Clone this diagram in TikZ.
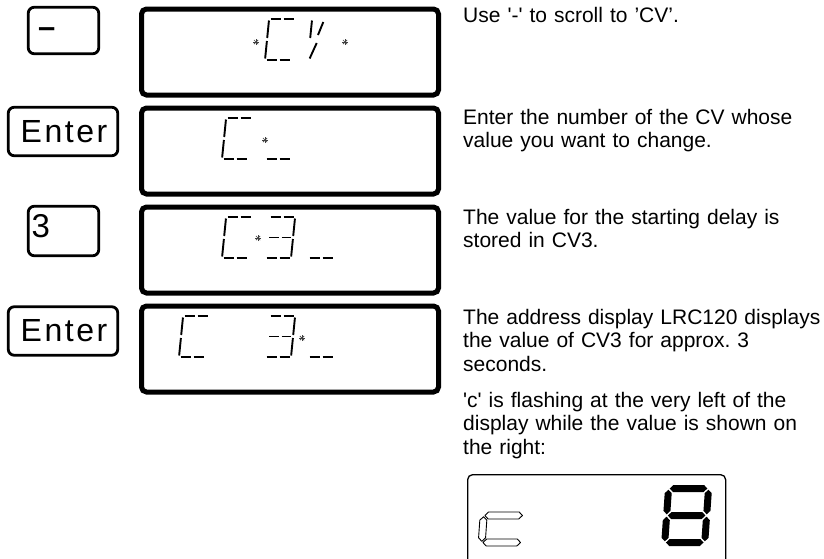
\documentclass[tikz,border=0pt]{standalone}
\usepackage{fontspec}
\setmainfont{Liberation Sans}
\newfontfamily\notefont{Liberation Sans}
\newfontfamily\keyfont{Liberation Sans}[LetterSpace=8]
\frenchspacing
\tikzset{keybox/.style={draw,line width=2.8pt,rounded corners=6pt,inner sep=0pt},
  lcd/.style={draw,line width=5pt,rounded corners=5pt,inner sep=0pt,minimum width=297pt,minimum height=86pt},
  keytext/.style={font=\fontsize{33}{33}\selectfont,inner sep=0pt,anchor=base west},
  note/.style={font=\notefont\fontsize{21}{23.5}\selectfont,text width=360pt,align=left,inner sep=0pt,anchor=base west},
  seg/.style={line width=1.9pt},
  starline/.style={line width=0.7pt,black!75},
  litseg/.style={fill=black},
  offseg/.style={draw,fill=white,line width=0.9pt,line join=round}}
% segments of one small display cell, origin bottom left
\tikzset{lcd a1/.style={insert path={(1.5,-41)--(11.5,-41)}},
  lcd a2/.style={insert path={(14.5,-41)--(24.5,-41)}},
  lcd b/.style={insert path={(26,-39.5)--(26,-22)}},
  lcd c/.style={insert path={(26,-19)--(26,-1.5)}},
  lcd d1/.style={insert path={(1.5,0)--(11.5,0)}},
  lcd d2/.style={insert path={(14.5,0)--(24.5,0)}},
  lcd e/.style={insert path={(0,-1.5)--(0,-19)}},
  lcd f/.style={insert path={(0,-22)--(0,-39.5)}},
  lcd g1/.style={insert path={(2,-20.5)--(11.5,-20.5)}},
  lcd g2/.style={insert path={(14.5,-20.5)--(24,-20.5)}},
  lcd k/.style={insert path={(1.5,-1.5)--(7,-17)}},
  lcd j/.style={insert path={(7.5,-25)--(11.5,-38)}}}
\newcommand\lcdglyph[3]{%
  \begin{scope}[shift={(#1)},shift={(#2)},xslant=0.1]
    \foreach \s in {#3}{\edef\lcdnext{\noexpand\draw[seg,lcd \s];}\lcdnext}
  \end{scope}}
\newcommand\lcdstar[2]{%
  \begin{scope}[shift={(#1)},shift={(#2)}]
    \foreach \a in {0,45,90,135}{\draw[starline] (\a:3) -- (\a+180:3);}
  \end{scope}}
% one big segment: style, centre, angle, half length
\newcommand\hexseg[5]{\path[#1,shift={(#2,#3)},rotate=#4]
  (-#5,0)--(-#5+3.5,-3.5)--(#5-3.5,-3.5)--(#5,0)--(#5-3.5,3.5)--(-#5+3.5,3.5)--cycle;}

\begin{document}
\begin{tikzpicture}[x=1pt,y=-1pt]
\useasboundingbox (0,0) rectangle (824,558);
% keys
\node[keybox,minimum width=70.5pt,minimum height=46.5pt] (minuskey) at (63.5,30.5) {};
\node[keytext,font=\bfseries\fontsize{31}{31}\selectfont] (minuslabel) at ([shift={(11,-18)}]minuskey.south west) {–};
\node[keybox,minimum width=109.5pt,minimum height=48.5pt,font=\keyfont\fontsize{32}{32}\selectfont] (enterkey) at (63,131.5) {Enter\kern-2pt};
\node[keybox,minimum width=70.5pt,minimum height=49.5pt] (threekey) at (63.5,231) {};
\node[keytext] (threelabel) at ([shift={(4.6,-20)}]threekey.south west) {3};
\node[keybox,minimum width=109.5pt,minimum height=48.5pt,font=\keyfont\fontsize{32}{32}\selectfont] (enterkeyb) at (63,331) {Enter\kern-2pt};
% displays
\node[lcd] (lcdA) at (290,52) {};
\node[lcd] (lcdB) at (290,151) {};
\node[lcd] (lcdC) at (290,250) {};
\node[lcd] (lcdD) at (290,349) {};
\lcdstar{lcdA.center}{-34,-10}
\lcdglyph{lcdA.center}{-25,8}{a1,a2,f,e,d1,d2}
\lcdglyph{lcdA.center}{18,8}{f,k,j}
\lcdstar{lcdA.center}{55,-10}
\lcdglyph{lcdB.center}{-68,8}{a1,a2,f,e,d1,d2}
\lcdstar{lcdB.center}{-25,-11}
\lcdglyph{lcdB.center}{-25,8}{d1,d2}
\lcdglyph{lcdC.center}{-68,8}{a1,a2,f,e,d1,d2}
\lcdstar{lcdC.center}{-32,-12}
\lcdglyph{lcdC.center}{-25,8}{a1,a2,b,c,g1,g2,d1,d2}
\lcdglyph{lcdC.center}{18,8}{d1,d2}
\lcdglyph{lcdD.center}{-111,8}{a1,a2,f,e,d1,d2}
\lcdglyph{lcdD.center}{-25,8}{a1,a2,b,c,g1,g2,d1,d2}
\lcdstar{lcdD.center}{12,-11}
\lcdglyph{lcdD.center}{18,8}{d1,d2}
% notes
\node[note] (noteA) at (463,22) {Use '-' to scroll to ’CV’.};
\node[note] (noteB) at (463,124) {Enter the number of the CV whose\\value you want to change.};
\node[note] (noteC) at (463,224) {The value for the starting delay is\\stored in CV3.};
\node[note] (noteD) at (463,324) {The address display LRC120 displays\\the value of CV3 for approx. 3\\seconds.};
\node[note] (noteE) at (463,407) {'c' is flashing at the very left of the\\display while the value is shown on\\the right:};
% big display
\node[draw,line width=1.3pt,rounded corners=5pt,inner sep=0pt,minimum width=258pt,minimum height=92pt,anchor=north west] (lcdbig) at (467,474) {};
\begin{scope}[shift={(lcdbig.north west)},shift={(11,72)},xslant=0.07]
  \foreach \cx/\cy/\ang/\len in {23.5/-30.5/0/18.8,3.5/-17/90/12.3,23.5/-3.5/0/18.8}
    {\hexseg{offseg}{\cx}{\cy}{\ang}{\len}}
\end{scope}
\begin{scope}[shift={(lcdbig.north west)},shift={(194,72)},xslant=0.07]
  \foreach \cx/\cy/\ang/\len in {23.5/-57.5/0/18.8,23.5/-30.5/0/18.8,23.5/-3.5/0/18.8,
      3.5/-44/90/12.3,3.5/-17/90/12.3,43.5/-44/90/12.3,43.5/-17/90/12.3}
    {\hexseg{litseg}{\cx}{\cy}{\ang}{\len}}
\end{scope}
\end{tikzpicture}
\end{document}
